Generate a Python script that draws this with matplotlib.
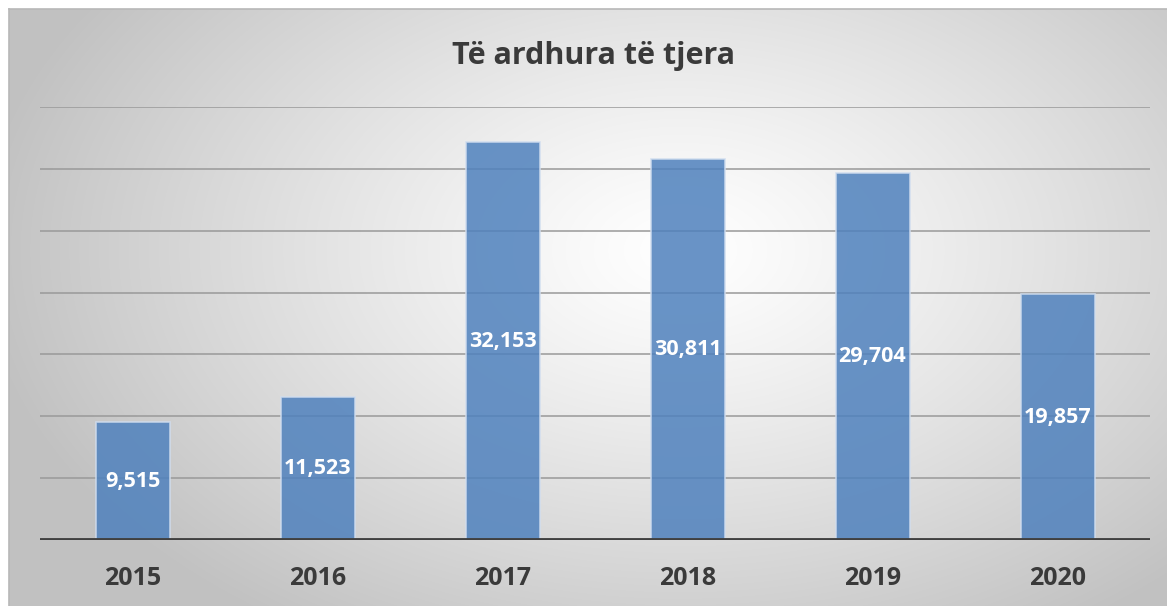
import numpy as np
import matplotlib.pyplot as plt

# te dhenat
years = ['2015', '2016', '2017', '2018', '2019', '2020']
values = [9515, 11523, 32153, 30811, 29704, 19857]
title = 'Të ardhura të tjera'

W, H = 1167, 606
fig = plt.figure(figsize=(W / 100, H / 100), dpi=100)
fig.patch.set_facecolor('white')

# sfondi me gradient radial
bg = fig.add_axes([9 / W, 0, 1 - 9 / W, (H - 9) / H])
yy, xx = np.mgrid[9:H, 9:W]
r = np.sqrt(((xx - 680) / 700.0) ** 2 + ((yy - 250) / 450.0) ** 2)
shade = 1.0 - 0.24 * np.clip(r, 0, 1) ** 1.2
bg.imshow(np.dstack([shade] * 3), aspect='auto', extent=[0, 1, 0, 1], origin='upper')
bg.set_xlim(0, 1)
bg.set_ylim(0, 1)
bg.set_xticks([])
bg.set_yticks([])
for s in ['right', 'bottom']:
    bg.spines[s].set_visible(False)
for s in ['left', 'top']:
    bg.spines[s].set_color('#b8b8b8')
    bg.spines[s].set_linewidth(1.2)

# zona e grafikut
ax = fig.add_axes([40 / W, (H - 540) / H, 1110 / W, 433 / H])
ax.patch.set_alpha(0)
ax.set_ylim(0, 35000)
ax.set_xlim(-0.5, len(years) - 0.5)
for v in range(5000, 35001, 5000):
    ax.axhline(v, color='#9a9a9a', lw=1.4, zorder=1, alpha=0.8)
x = np.arange(len(years))
ax.bar(x, values, width=0.4, color='#4f81bd', alpha=0.85,
       edgecolor='#d0ddef', linewidth=1.2, zorder=2)
ax.axhline(0, color='#404040', lw=3.5, zorder=3)

for xi, v in zip(x, values):
    ax.text(xi, v / 2, f'{v:,}', ha='center', va='center', color='white',
            fontsize=15.5, fontweight='bold', family='Open Sans', zorder=4)

ax.set_xticks(x)
ax.set_xticklabels(years, fontsize=18, fontweight='bold', color='#3a3a3a',
                   family='Open Sans')
ax.tick_params(axis='x', length=0, pad=19)
ax.set_yticks([])
for s in ax.spines.values():
    s.set_visible(False)

fig.text(594 / W, 1 - 56 / H, title, ha='center', va='center', fontsize=22,
         fontweight='bold', color='#3a3a3a', family='Open Sans')

fig.savefig('out.png', dpi=100)
